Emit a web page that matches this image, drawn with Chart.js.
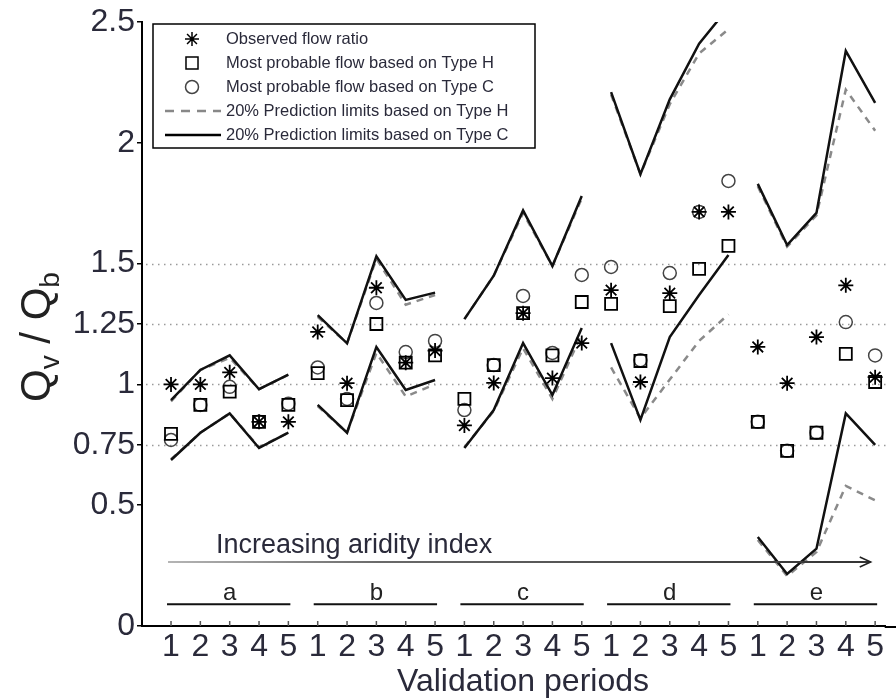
<!DOCTYPE html>
<html>
<head>
<meta charset="utf-8">
<script src="https://cdn.jsdelivr.net/npm/chart.js@4/dist/chart.umd.min.js"></script>
<style>
  html, body { margin: 0; padding: 0; background: #fff; }
  canvas { display: block; }
</style>
</head>
<body>
<canvas id="c" width="896" height="698"></canvas>
<script>
// five validation periods in each of five catchment groups
const periodLabels = ['1','2','3','4','5','1','2','3','4','5','1','2','3','4','5',
                      '1','2','3','4','5','1','2','3','4','5'];
const groupNames = ['a', 'b', 'c', 'd', 'e'];
const yTicks = [0, 0.5, 0.75, 1, 1.25, 1.5, 2, 2.5];
const gridValues = [0.75, 1, 1.25, 1.5];

const observed = [1.0, 1.0, 1.05, 0.845, 0.845,
                  1.217, 1.005, 1.40, 1.09, 1.14,
                  0.83, 1.006, 1.295, 1.026, 1.171,
                  1.39, 1.01, 1.378, 1.714, 1.714,
                  1.155, 1.005, 1.196, 1.41, 1.03];
const typeH = [0.795, 0.915, 0.97, 0.845, 0.915,
               1.047, 0.935, 1.25, 1.09, 1.12,
               0.94, 1.08, 1.295, 1.12, 1.341,
               1.333, 1.097, 1.324, 1.478, 1.573,
               0.845, 0.725, 0.80, 1.126, 1.01];
const typeC = [0.77, 0.915, 0.99, 0.845, 0.92,
               1.07, 0.94, 1.337, 1.134, 1.18,
               0.894, 1.08, 1.366, 1.13, 1.453,
               1.486, 1.10, 1.461, 1.714, 1.842,
               0.845, 0.725, 0.80, 1.258, 1.12];
const upperC = [0.935, 1.06, 1.12, 0.98, 1.04,
                1.287, 1.17, 1.53, 1.35, 1.38,
                1.27, 1.45, 1.72, 1.49, 1.78,
                2.21, 1.87, 2.18, 2.41, 2.56,
                1.83, 1.577, 1.71, 2.38, 2.165];
const lowerC = [0.687, 0.80, 0.88, 0.737, 0.80,
                0.915, 0.80, 1.155, 0.977, 1.018,
                0.737, 0.894, 1.171, 0.956, 1.233,
                1.171, 0.853, 1.196, 1.37, 1.536,
                0.368, 0.215, 0.32, 0.88, 0.75];
const upperH = [0.93, 1.06, 1.11, 0.98, 1.04,
                1.28, 1.17, 1.52, 1.33, 1.37,
                1.27, 1.45, 1.71, 1.49, 1.77,
                2.20, 1.87, 2.16, 2.37, 2.47,
                1.82, 1.57, 1.70, 2.22, 2.05];
const lowerH = [0.69, 0.80, 0.88, 0.74, 0.80,
                0.91, 0.80, 1.13, 0.95, 1.00,
                0.74, 0.89, 1.15, 0.94, 1.21,
                1.07, 0.86, 1.02, 1.18, 1.29,
                0.356, 0.207, 0.306, 0.58, 0.52];

const FONT = '"Liberation Sans", Arial, sans-serif';
const TEXT = '#2a2a3a';
const xy = arr => arr.map((v, i) => ({ x: i + 1, y: v }));
const sameGroup = ctx => Math.floor(ctx.p0DataIndex / 5) === Math.floor(ctx.p1DataIndex / 5);

function limitLine(label, values, color, dash) {
  return {
    type: 'line', label, data: xy(values),
    borderColor: color, borderWidth: 2.5, borderDash: dash,
    pointRadius: 0, fill: false, tension: 0,
    segment: { borderColor: ctx => sameGroup(ctx) ? color : 'rgba(0,0,0,0)' }
  };
}

function markers(label, values, style, r, color, bw) {
  return {
    type: 'scatter', label, data: xy(values),
    pointStyle: style, pointRadius: r, borderColor: color,
    backgroundColor: 'rgba(0,0,0,0)', pointBorderWidth: bw, showLine: false
  };
}

// gridlines, inner ticks, group bars, arrow, legend, axis titles
const decor = {
  id: 'decor',
  beforeDatasetsDraw(chart) {
    const { ctx, chartArea: a, scales: { y } } = chart;
    ctx.save();
    ctx.strokeStyle = '#9a9a9a';
    ctx.lineWidth = 1.5;
    ctx.setLineDash([1.5, 4.5]);
    gridValues.forEach(v => {
      const py = Math.round(y.getPixelForValue(v)) + 0.5;
      ctx.beginPath(); ctx.moveTo(a.left + 4, py); ctx.lineTo(890, py); ctx.stroke();
    });
    ctx.restore();
  },
  afterDraw(chart) {
    const { ctx, chartArea: a, scales: { x, y } } = chart;
    ctx.save();
    // extend the x axis line to the right edge
    ctx.strokeStyle = '#000'; ctx.lineWidth = 2;
    ctx.beginPath(); ctx.moveTo(a.right - 1, a.bottom + 1); ctx.lineTo(896, a.bottom + 1); ctx.stroke();
    // small inward ticks on x axis
    ctx.strokeStyle = '#555'; ctx.lineWidth = 1.5;
    periodLabels.forEach((_, i) => {
      const px = x.getPixelForValue(i + 1);
      ctx.beginPath(); ctx.moveTo(px, a.bottom); ctx.lineTo(px, a.bottom - 5); ctx.stroke();
    });
    // group letters with underline
    ctx.fillStyle = '#222'; ctx.strokeStyle = '#111'; ctx.lineWidth = 2;
    ctx.font = '24px ' + FONT; ctx.textAlign = 'center'; ctx.textBaseline = 'middle';
    groupNames.forEach((g, k) => {
      const x0 = x.getPixelForValue(k * 5 + 1), x1 = x.getPixelForValue(k * 5 + 5);
      const py = y.getPixelForValue(0.09);
      ctx.beginPath(); ctx.moveTo(x0 - 4, py); ctx.lineTo(x1 + 2, py); ctx.stroke();
      ctx.fillText(g, (x0 + x1) / 2, py - 11);
    });
    // aridity arrow
    const ay = y.getPixelForValue(0.265);
    const ax0 = x.getPixelForValue(1) - 3, ax1 = x.getPixelForValue(24.85);
    const grad = ctx.createLinearGradient(ax0, 0, ax1, 0);
    grad.addColorStop(0, '#b5b5b5'); grad.addColorStop(0.3, '#6a6a6a'); grad.addColorStop(1, '#333');
    ctx.strokeStyle = grad; ctx.lineWidth = 2;
    ctx.beginPath(); ctx.moveTo(ax0, ay); ctx.lineTo(ax1, ay); ctx.stroke();
    ctx.strokeStyle = '#222'; ctx.lineWidth = 1.5;
    ctx.beginPath(); ctx.moveTo(ax1 - 11, ay - 5); ctx.lineTo(ax1, ay); ctx.lineTo(ax1 - 11, ay + 5); ctx.stroke();
    ctx.font = '27px ' + FONT; ctx.textAlign = 'left'; ctx.textBaseline = 'alphabetic';
    ctx.fillStyle = TEXT;
    ctx.fillText('Increasing aridity index', ax0 + 48, ay - 9);
    // x axis title
    ctx.font = '32px ' + FONT; ctx.textAlign = 'center'; ctx.textBaseline = 'middle';
    ctx.fillText('Validation periods', 523, 682);
    // legend box
    const lx = a.left + 11, ly = a.top + 2, lw = 382, lh = 124;
    ctx.fillStyle = '#fff'; ctx.fillRect(lx, ly, lw, lh);
    ctx.strokeStyle = '#000'; ctx.lineWidth = 1.5; ctx.strokeRect(lx, ly, lw, lh);
    const rows = [
      ['Observed flow ratio', 'star'],
      ['Most probable flow based on Type H', 'rect'],
      ['Most probable flow based on Type C', 'circle'],
      ['20% Prediction limits based on Type H', 'dash'],
      ['20% Prediction limits based on Type C', 'solid']
    ];
    ctx.font = '16.5px ' + FONT; ctx.textAlign = 'left'; ctx.textBaseline = 'middle';
    rows.forEach((r, i) => {
      const ry = ly + 15 + i * 24, mx = lx + 39;
      ctx.fillStyle = 'rgba(0,0,0,0)';
      if (r[1] === 'star' || r[1] === 'rect' || r[1] === 'circle') {
        ctx.strokeStyle = r[1] === 'circle' ? '#444' : '#000';
        const rad = r[1] === 'rect' ? 8.5 : (r[1] === 'star' ? 7 : 6.5);
        Chart.helpers.drawPoint(ctx, { pointStyle: r[1], radius: rad, borderWidth: 1.8, rotation: 0 }, mx, ry);
      } else {
        ctx.lineWidth = 2.5;
        ctx.strokeStyle = r[1] === 'dash' ? '#888' : '#000';
        ctx.setLineDash(r[1] === 'dash' ? [9, 7] : []);
        ctx.beginPath(); ctx.moveTo(lx + 12, ry); ctx.lineTo(lx + 68, ry); ctx.stroke();
        ctx.setLineDash([]);
      }
      ctx.fillStyle = TEXT;
      ctx.fillText(r[0], lx + 73, ry);
    });
    // y axis title Q_v / Q_b
    ctx.translate(50, 402); ctx.rotate(-Math.PI / 2);
    ctx.fillStyle = '#222'; ctx.textAlign = 'left'; ctx.textBaseline = 'alphabetic';
    let tx = 0;
    const part = (t, size, dy) => {
      ctx.font = size + 'px ' + FONT; ctx.fillText(t, tx, dy); tx += ctx.measureText(t).width;
    };
    part('Q', 42, 0); part('v', 28, 9); part(' / ', 42, 0); part('Q', 42, 0); part('b', 28, 9);
    ctx.restore();
  }
};

new Chart(document.getElementById('c'), {
  type: 'scatter',
  data: {
    datasets: [
      markers('Observed flow ratio', observed, 'star', 7.5, '#000', 1.8),
      markers('Most probable flow based on Type H', typeH, 'rect', 8.5, '#000', 1.8),
      markers('Most probable flow based on Type C', typeC, 'circle', 6.5, '#444', 1.5),
      limitLine('upper C', upperC, '#111', []),
      limitLine('lower C', lowerC, '#111', []),
      limitLine('upper H', upperH, '#8a8a8a', [7, 6]),
      limitLine('lower H', lowerH, '#8a8a8a', [7, 6])
    ]
  },
  options: {
    responsive: false,
    animation: false,
    layout: { padding: { top: 22, right: 0, left: 0, bottom: 0 } },
    plugins: { legend: { display: false }, tooltip: { enabled: false } },
    scales: {
      x: {
        type: 'linear', min: 0.011, max: 25.36,
        afterFit: s => { s.height = 72; },
        afterBuildTicks: s => { s.ticks = periodLabels.map((_, i) => ({ value: i + 1 })); },
        ticks: {
          autoSkip: false, maxRotation: 0, padding: 2, color: TEXT,
          font: { family: FONT, size: 32 },
          callback: (v) => periodLabels[v - 1]
        },
        grid: { drawOnChartArea: false, drawTicks: false },
        border: { color: '#000', width: 2 }
      },
      y: {
        min: 0, max: 2.5,
        afterFit: s => { s.width = 142; },
        afterBuildTicks: s => { s.ticks = yTicks.map(v => ({ value: v })); },
        ticks: {
          padding: 2, color: TEXT,
          font: { family: FONT, size: 32 },
          callback: v => String(v)
        },
        grid: { drawOnChartArea: false, tickLength: 5, color: '#000', lineWidth: 1.5 },
        border: { color: '#000', width: 2 }
      }
    }
  },
  plugins: [decor]
});
</script>
</body>
</html>
